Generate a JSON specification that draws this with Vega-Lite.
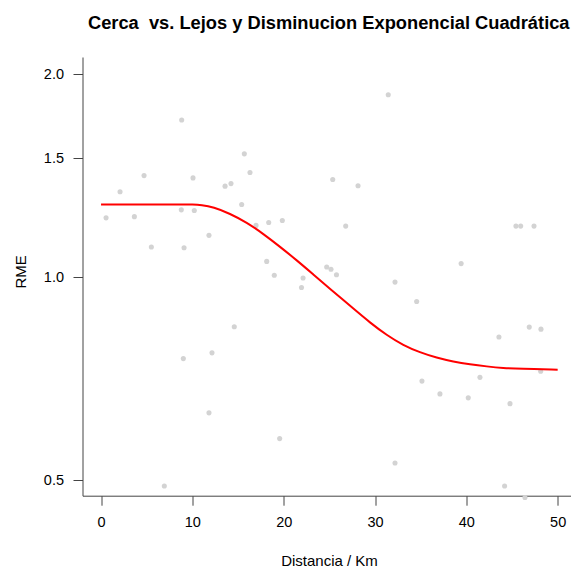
{
  "$schema": "https://vega.github.io/schema/vega-lite/v6.json",
  "autosize": "none",
  "width": 488.5,
  "height": 438.7,
  "padding": {"left": 82.5, "top": 57, "right": 0, "bottom": 76.3},
  "background": "white",
  "title": {
    "text": "Cerca \u00a0vs. Lejos y Disminucion Exponencial Cuadrática",
    "font": "Liberation Sans",
    "fontSize": 18.3,
    "fontWeight": "bold",
    "color": "#000000",
    "anchor": "middle",
    "baseline": "alphabetic",
    "offset": 9.5,
    "dx": 2
  },
  "config": {
    "view": {"stroke": null},
    "font": "Liberation Sans",
    "axis": {
      "grid": false,
      "domainColor": "#444444",
      "domainWidth": 1,
      "tickColor": "#444444",
      "tickWidth": 1,
      "tickSize": 9.5,
      "labelFont": "Liberation Sans",
      "labelFontSize": 14.5,
      "labelColor": "#000000",
      "titleFont": "Liberation Sans",
      "titleFontSize": 15,
      "titleFontWeight": "normal",
      "titleColor": "#000000"
    }
  },
  "datasets": {
    "pts": [
      {"d": 8.83, "rme": 1.710}, {"d": 15.69, "rme": 1.523}, {"d": 4.71, "rme": 1.414},
      {"d": 10.07, "rme": 1.403}, {"d": 16.31, "rme": 1.429}, {"d": 13.58, "rme": 1.364},
      {"d": 14.23, "rme": 1.376}, {"d": 2.08, "rme": 1.338}, {"d": 0.55, "rme": 1.224},
      {"d": 3.65, "rme": 1.229}, {"d": 8.79, "rme": 1.258}, {"d": 10.21, "rme": 1.255},
      {"d": 15.40, "rme": 1.281}, {"d": 5.51, "rme": 1.108}, {"d": 9.09, "rme": 1.105},
      {"d": 11.82, "rme": 1.153}, {"d": 18.36, "rme": 1.205}, {"d": 19.85, "rme": 1.213},
      {"d": 16.97, "rme": 1.193}, {"d": 18.14, "rme": 1.055}, {"d": 18.97, "rme": 1.006},
      {"d": 22.12, "rme": 0.997}, {"d": 21.95, "rme": 0.965}, {"d": 24.71, "rme": 1.035},
      {"d": 25.18, "rme": 1.027}, {"d": 25.78, "rme": 1.008}, {"d": 31.45, "rme": 1.864},
      {"d": 25.37, "rme": 1.395}, {"d": 28.14, "rme": 1.366}, {"d": 26.79, "rme": 1.190},
      {"d": 45.43, "rme": 1.190}, {"d": 45.95, "rme": 1.190}, {"d": 47.41, "rme": 1.190},
      {"d": 39.43, "rme": 1.047}, {"d": 32.19, "rme": 0.983}, {"d": 34.56, "rme": 0.920},
      {"d": 43.57, "rme": 0.815}, {"d": 46.89, "rme": 0.843}, {"d": 48.17, "rme": 0.837},
      {"d": 48.14, "rme": 0.725}, {"d": 41.49, "rme": 0.710}, {"d": 35.14, "rme": 0.701},
      {"d": 37.11, "rme": 0.671}, {"d": 40.21, "rme": 0.662}, {"d": 44.78, "rme": 0.649},
      {"d": 32.19, "rme": 0.530}, {"d": 44.19, "rme": 0.490}, {"d": 46.42, "rme": 0.471},
      {"d": 14.59, "rme": 0.844}, {"d": 9.01, "rme": 0.757}, {"d": 12.15, "rme": 0.772},
      {"d": 11.82, "rme": 0.629}, {"d": 19.56, "rme": 0.576}, {"d": 6.93, "rme": 0.490}
    ],
    "curve": [
      {"d": 0, "rme": 1.281}, {"d": 5, "rme": 1.281}, {"d": 9, "rme": 1.281},
      {"d": 10, "rme": 1.281}, {"d": 11, "rme": 1.279}, {"d": 12.29, "rme": 1.270},
      {"d": 14.12, "rme": 1.242}, {"d": 15.95, "rme": 1.205}, {"d": 17.77, "rme": 1.159},
      {"d": 19.60, "rme": 1.109}, {"d": 21.43, "rme": 1.059}, {"d": 23.24, "rme": 1.009},
      {"d": 25.07, "rme": 0.961}, {"d": 27.62, "rme": 0.898}, {"d": 29.45, "rme": 0.856},
      {"d": 31.28, "rme": 0.820}, {"d": 33.10, "rme": 0.792}, {"d": 34.92, "rme": 0.773},
      {"d": 36.75, "rme": 0.759}, {"d": 38.57, "rme": 0.749}, {"d": 40.40, "rme": 0.742},
      {"d": 42.23, "rme": 0.737}, {"d": 44.04, "rme": 0.733}, {"d": 45.87, "rme": 0.731},
      {"d": 50, "rme": 0.729}
    ]
  },
  "encoding": {
    "x": {
      "field": "d", "type": "quantitative",
      "scale": {"domain": [-2.03, 51.46], "nice": false, "zero": false},
      "axis": {
        "values": [0, 10, 20, 30, 40, 50],
        "format": "d",
        "title": "Distancia / Km",
        "labelPadding": 10,
        "titleBaseline": "alphabetic",
        "titleX": 246.5,
        "titleY": 69.3,
        "labelFlush": false
      }
    },
    "y": {
      "field": "rme", "type": "quantitative",
      "scale": {"type": "log", "domain": [0.474, 2.12], "nice": false, "zero": false},
      "axis": {
        "values": [0.5, 1.0, 1.5, 2.0],
        "format": ".1f",
        "title": "RME",
        "labelPadding": 9.5,
        "titleBaseline": "alphabetic",
        "titleAngle": -90,
        "titleX": -57,
        "titleY": 214.3,
        "labelFlush": false
      }
    }
  },
  "layer": [
    {
      "data": {"name": "pts"},
      "mark": {"type": "circle", "size": 26, "color": "#d3d3d3", "opacity": 1}
    },
    {
      "data": {"name": "curve"},
      "mark": {"type": "line", "color": "#ff0000", "strokeWidth": 2, "interpolate": "basis"}
    }
  ]
}
